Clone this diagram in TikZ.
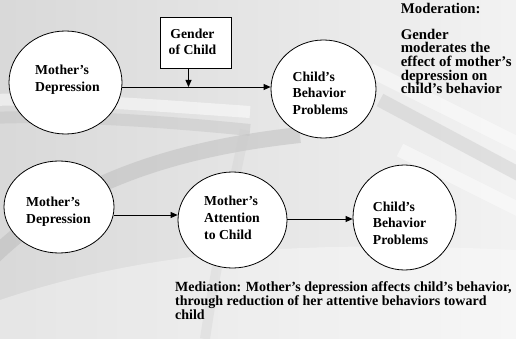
\documentclass[tikz,border=0pt]{standalone}
\usepackage{fontspec}
\setmainfont{Liberation Serif}
\usetikzlibrary{shapes.geometric,arrows.meta}
\tikzset{
  bubble/.style={ellipse, draw=black, fill=white, line width=0.8pt, inner sep=0pt},
  lbl/.style={anchor=north west, align=left, inner sep=0pt, font=\bfseries\fontsize{13.7}{16.7}\selectfont},
  side/.style={anchor=north west, align=left, inner sep=0pt, font=\bfseries\fontsize{14.8}{13.6}\selectfont},
  conn/.style={line width=0.8pt, -{Triangle[length=7pt,width=6pt]}},
}
\begin{document}
\begin{tikzpicture}[x=1pt,y=-1pt]
\useasboundingbox (0,0) rectangle (516,339);
% background
\shade[left color=black!15, right color=black!5] (0,0) rectangle (516,339);
\fill[white, opacity=0.35] (0,339) -- (0,300) .. controls (150,250) and (300,240) .. (516,250) -- (516,339) -- cycle;
\draw[black!30, opacity=0.4, line width=16pt] (-10,260) .. controls (60,190) and (160,150) .. (300,135);
\draw[black!25, opacity=0.4, line width=12pt] (-10,118) .. controls (60,115) and (150,120) .. (250,130);
\draw[white, opacity=0.5, line width=12pt] (-10,100) .. controls (60,98) and (150,105) .. (250,112);
\draw[white, opacity=0.45, line width=14pt] (370,70) -- (530,150);
\draw[black!25, opacity=0.35, line width=14pt] (380,100) -- (530,180);
\draw[white, opacity=0.45, line width=14pt] (400,150) -- (530,215);
\draw[black!20, opacity=0.3, line width=10pt] (245,130) .. controls (230,200) and (215,270) .. (205,339);

% top row
\node[bubble, minimum width=113pt, minimum height=103pt] (md1) at (65.5,82.5) {};
\node[lbl] (md1t) at (35,64.6) {Mother’s\\Depression};
\node[draw=black, fill=white, line width=0.8pt, minimum width=71pt, minimum height=51pt, inner sep=0pt] (gen) at (195.5,42.5) {};
\node[anchor=north, align=center, inner sep=0pt, font=\bfseries\fontsize{13.7}{16.7}\selectfont] (gent) at (192.5,28.4) {Gender\\of Child};
\node[bubble, minimum width=105pt, minimum height=98pt] (cb1) at (323.5,89) {};
\node[lbl] (cb1t) at (292.5,71.4) {Child’s\\Behavior\\Problems};
\coordinate (mid) at (188.5,87);
\draw[conn] (md1.east |- mid) -- (cb1.west |- mid);
\draw[conn] (gen.south -| mid) -- (mid);

% moderation text
\node[side] (modh) at (400.7,3.2) {Moderation:};
\node[side] (modt) at (400.7,28.9) {Gender\\moderates the\\effect of mother’s\\depression on\\child’s behavior};

% bottom row
\node[bubble, minimum width=110pt, minimum height=92pt] (md2) at (59,207) {};
\node[lbl] (md2t) at (26,197.2) {Mother’s\\Depression};
\node[bubble, minimum width=109pt, minimum height=96pt] (att) at (232.5,220) {};
\node[lbl] (attt) at (204,196.2) {Mother’s\\Attention\\to Child};
\node[bubble, minimum width=103pt, minimum height=105pt] (cb2) at (404.5,217.5) {};
\node[lbl] (cb2t) at (372.7,201.5) {Child’s\\Behavior\\Problems};
\draw[conn] (md2.east |- 0,215) -- (att.west |- 0,215);
\draw[conn] (att.east |- 0,219) -- (cb2.west |- 0,219);

% mediation text
\node[anchor=north west, align=left, inner sep=0pt, font=\bfseries\fontsize{14}{14.3}\selectfont] (medt) at (175,281) {Mediation: Mother’s depression affects child’s behavior,\\through reduction of her attentive behaviors toward\\child};
\end{tikzpicture}
\end{document}
